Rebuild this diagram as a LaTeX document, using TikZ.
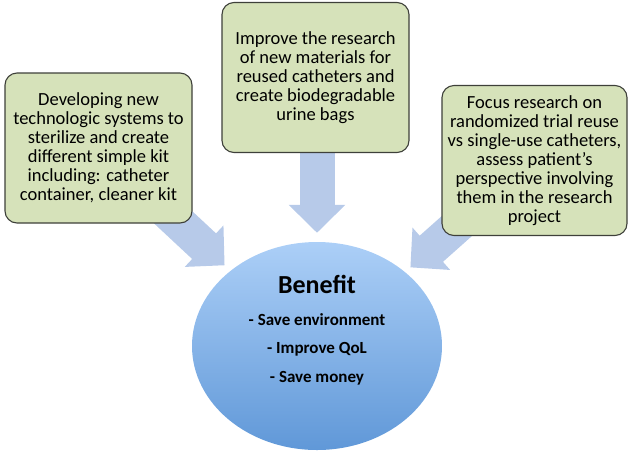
\documentclass[tikz,border=0pt]{standalone}
\usepackage{fontspec}
\setmainfont{Carlito}
\usetikzlibrary{arrows.meta,shapes.geometric,backgrounds}
\definecolor{boxgreen}{RGB}{214,226,186}
\definecolor{boxline}{RGB}{62,64,58}
\definecolor{arrowblue}{RGB}{183,202,233}
\definecolor{bentop}{RGB}{172,207,247}
\definecolor{benbot}{RGB}{96,152,216}
\begin{document}
\begin{tikzpicture}[x=1pt, y=-1pt,
    idea/.style={draw=boxline, line width=1.1pt, fill=boxgreen, rounded corners=12pt,
        minimum width=187pt, minimum height=150pt, inner sep=1pt, align=center,
        font=\fontsize{18.5}{19}\selectfont},
    benefit/.style={ellipse, top color=bentop, bottom color=benbot, draw=none,
        minimum width=250pt, minimum height=208pt},
    bentext/.style={align=center, font=\bfseries\fontsize{17}{28.5}\selectfont},
    fatarrow/.style={draw=arrowblue, line width=35pt, -{Triangle[width=55pt,length=28pt]}}]
    \useasboundingbox (0,0) rectangle (632,451);

    % Les trois propositions
    \node[idea] (dev) at (98.5,148) {Developing new\\technologic systems to\\sterilize and create\\different simple kit\\including: catheter\\container, cleaner kit};
    \node[idea] (mat) at (315.5,77.5) {Improve the research\\of new materials for\\reused catheters and\\create biodegradable\\urine bags};
    \node[idea, minimum width=185pt] (foc) at (534.5,160.5) {Focus research on\\randomized trial reuse\\vs single-use catheters,\\assess patient’s\\perspective involving\\them in the research\\project};

    % Benefice
    \node[benefit] (ben) at (317,346) {};
    \node[bentext] (bentxt) at (317,330) {{\fontsize{26}{28}\selectfont Benefit}\\[3pt]- Save environment\\- Improve QoL\\- Save money};

    % Fleches
    \begin{pgfonlayer}{background}
        \draw[fatarrow, shorten >=8pt] ([xshift=-32pt, yshift=18pt]dev.south east) -- (ben.139);
        \draw[fatarrow] ([yshift=20pt]ben.north |- mat.south) -- ([yshift=9pt]ben.north);
        \draw[fatarrow, shorten >=7pt] ([xshift=30pt, yshift=23pt]foc.south west) -- (ben.40);
    \end{pgfonlayer}
\end{tikzpicture}
\end{document}
